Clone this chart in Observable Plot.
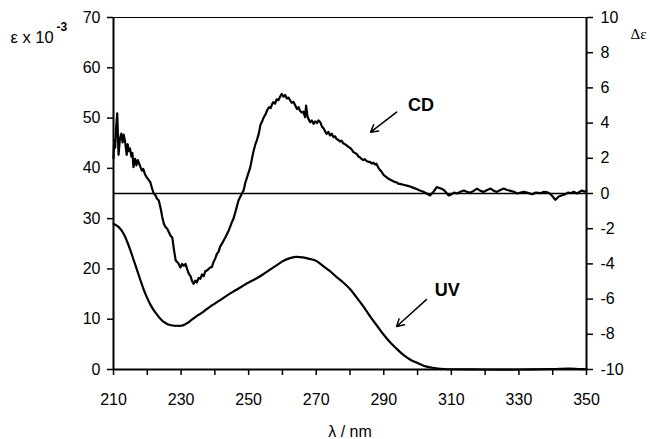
<!DOCTYPE html>
<html><head><meta charset="utf-8">
<script src="https://cdn.jsdelivr.net/npm/d3@7"></script>
<script src="https://cdn.jsdelivr.net/npm/@observablehq/plot@0.6"></script>
<style>body{margin:0;background:#fff}svg{display:block}</style>
</head><body><div id="chart"></div>
<script>
// UV spectrum: wavelength (nm) and ε × 10^-3 (left axis)
const uvNm  = [210,211,212,213,214,215,216,217,218,219,220,221,222,223,224,225,226,227,228,229,230,231,232,233,234,235,236,237,238,239,240,242,244,246,248,250,252,254,256,258,260,262,264,266,268,270,272,274,276,278,280,282,284,286,288,290,292,294,296,298,300,302,304,306,308,310,320,330,340,345,348,350];
const uvEps = [29.0,28.6,28.0,27.0,25.5,23.7,21.7,19.7,17.7,15.8,14.2,12.8,11.7,10.8,10.0,9.4,9.0,8.8,8.7,8.7,8.7,8.9,9.3,9.8,10.3,10.8,11.2,11.7,12.2,12.7,13.1,14.0,14.9,15.7,16.5,17.3,18.0,18.8,19.7,20.6,21.5,22.1,22.4,22.3,22.0,21.6,20.6,19.6,18.4,17.3,16.0,14.3,12.5,10.5,8.7,6.9,5.3,4.0,2.8,1.9,1.3,0.7,0.4,0.2,0.1,0.05,0.0,0.0,0.1,0.2,0.1,0.1];

// CD spectrum: wavelength (nm) and Δε (right axis)
const cdNm = [210.0,210.2,210.5,210.8,211.1,211.5,211.9,212.3,212.7,213.0,213.4,213.9,214.2,214.6,214.9,215.3,215.6,215.9,216.4,216.8,217.2,217.6,218.0,218.4,218.8,219.3,219.8,220.3,220.9,221.4,221.9,222.4,222.9,223.4,223.9,224.4,224.9,225.4,225.9,226.4,226.9,227.4,227.9,228.4,228.9,229.3,229.8,230.3,230.8,231.3,231.8,232.3,232.8,233.3,233.7,234.2,234.7,235.2,235.7,236.2,236.7,237.2,237.6,238.1,238.6,239.1,239.6,240.1,240.6,241.1,241.6,242.1,242.6,243.1,243.6,244.1,244.6,245.1,245.5,246.0,246.5,247.0,247.5,248.0,248.5,249.0,249.5,250.0,250.5,251.0,251.5,252.0,252.4,253.0,253.5,254.0,254.4,255.0,255.4,256.0,256.5,257.0,257.3,257.8,258.3,258.8,259.3,259.8,260.3,260.8,261.3,261.8,262.3,262.8,263.3,263.8,264.3,264.8,265.2,265.7,266.2,266.7,267.0,267.4,267.8,268.2,268.7,269.2,269.7,270.2,270.7,271.2,271.7,272.2,272.7,273.1,273.6,274.1,274.6,275.1,275.6,276.0,276.5,277.0,277.5,278.0,278.5,279.0,279.5,280.0,280.5,281.0,281.5,282.0,282.5,283.0,283.5,283.9,284.4,284.9,285.4,285.9,286.4,286.9,287.4,287.8,288.3,288.8,289.3,289.8,290.3,290.8,291.3,291.8,292.3,292.8,293.3,293.8,294.3,294.8,295.8,296.8,297.8,298.8,299.7,300.7,301.7,302.7,303.7,304.7,305.7,306.7,307.7,308.5,309.2,310.0,310.8,311.7,312.7,313.7,314.6,315.6,316.6,317.6,318.6,319.6,320.6,321.6,322.6,323.5,324.5,325.5,326.5,327.5,328.5,329.5,330.5,331.4,332.4,333.9,335.0,336.4,337.4,338.4,339.1,339.8,340.8,341.8,342.8,343.8,344.5,345.3,346.2,347.2,348.0,348.7,349.4,350.0];
const cdDelta = [2.0,3.0,2.6,3.8,4.55,2.2,3.1,3.4,2.9,3.35,3.0,2.2,2.8,2.4,2.55,2.1,2.3,1.5,1.97,1.6,1.9,1.7,1.5,1.3,1.4,1.1,0.93,0.8,0.64,0.3,0.0,-0.1,-0.3,-0.4,-0.8,-1.3,-1.72,-1.9,-2.0,-2.2,-2.4,-2.5,-3.2,-3.8,-3.9,-4.0,-4.2,-4.0,-4.1,-4.0,-4.3,-4.56,-4.7,-5.0,-5.13,-4.95,-5.05,-4.8,-4.85,-4.6,-4.7,-4.4,-4.38,-4.3,-4.2,-4.19,-3.9,-3.7,-3.43,-3.3,-3.0,-2.85,-2.67,-2.5,-2.3,-2.1,-1.85,-1.6,-1.44,-1.1,-0.75,-0.4,-0.2,0.0,0.17,0.6,0.9,1.2,1.5,2.0,2.44,2.8,3.0,3.4,3.9,4.1,4.3,4.5,4.7,4.9,4.85,5.1,5.19,5.1,5.35,5.3,5.5,5.66,5.5,5.6,5.4,5.45,5.28,5.15,5.2,5.0,4.8,4.9,4.7,4.6,4.65,4.33,5.0,4.4,4.2,4.05,4.15,3.96,4.1,4.0,4.15,4.05,3.8,3.7,3.5,3.39,3.5,3.3,3.4,3.2,3.25,3.1,3.05,2.95,3.0,2.85,2.8,2.73,2.65,2.6,2.5,2.35,2.3,2.25,2.1,2.05,1.95,1.9,1.95,1.85,1.8,1.8,1.7,1.75,1.65,1.69,1.5,1.35,1.25,1.1,1.0,0.93,0.85,0.8,0.75,0.7,0.65,0.64,0.55,0.55,0.5,0.45,0.4,0.32,0.25,0.17,0.1,0.0,-0.11,0.1,0.36,0.3,0.21,0.05,-0.11,-0.05,0.05,0.0,0.1,0.17,0.1,0.04,0.15,0.28,0.15,0.09,0.2,0.28,0.15,0.09,0.2,0.28,0.2,0.15,0.1,0.0,0.05,0.1,0.05,-0.04,0.05,0.02,0.1,0.07,0.0,-0.13,-0.36,-0.17,-0.1,-0.04,0.05,0.02,0.1,0.0,0.1,0.17,0.1,0.15];

// Axis ticks and labels
const xTicks = [210,220,230,240,250,260,270,280,290,300,310,320,330,340,350];
const xLabels = [210,230,250,270,290,310,330,350];
const leftTicks = [0,10,20,30,40,50,60,70];
const rightTicks = [-10,-8,-6,-4,-2,0,2,4,6,8,10];

// Δε (right axis, -10..10) shares the frame with ε (left axis, 0..70)
const toLeft = d => (d + 10) * 3.5;
const fromLeft = e => e / 3.5 - 10;

const uv = uvNm.map((x, i) => ({x, y: uvEps[i]}));
const cd = cdNm.map((x, i) => ({x, y: toLeft(cdDelta[i])}));

// annotations (data coordinates)
const cdLabel = {text: "CD", x: 301, y: 52.6};
const uvLabel = {text: "UV", x: 308.8, y: 15.8};
const arrows = [
  {x1: 293.8, y1: 51.2, x2: 286.1, y2: 47.2},
  {x1: 302.6, y1: 13.9, x2: 293.8, y2: 8.55}
];

const font = "'Liberation Sans', Arial, Helvetica, sans-serif";

const chart = Plot.plot({
  width: 650, height: 439,
  marginLeft: 113, marginRight: 64, marginTop: 17, marginBottom: 70,
  style: {fontFamily: font, fontSize: "16px", background: "#fff", color: "#000"},
  x: {domain: [210, 350], axis: null},
  y: {domain: [0, 70], axis: null},
  marks: [
    Plot.ruleY([toLeft(0)], {stroke: "#000", strokeWidth: 1.3}),
    Plot.line(uv, {x: "x", y: "y", stroke: "#000", strokeWidth: 2.2, curve: "catmull-rom"}),
    Plot.line(cd, {x: "x", y: "y", stroke: "#000", strokeWidth: 2.2, strokeLinejoin: "round"}),
    Plot.ruleX([210, 350], {stroke: "#000", strokeWidth: 2}),
    Plot.ruleY([0], {stroke: "#000", strokeWidth: 2}),
    Plot.ruleY([70], {stroke: "#000", strokeWidth: 1.2}),
    Plot.axisX(xTicks, {anchor: "bottom", tickSize: 6, tickPadding: 18, strokeWidth: 1.5, label: null,
      tickFormat: d => xLabels.includes(d) ? String(d) : "", fontSize: 16}),
    Plot.axisY(leftTicks, {anchor: "left", tickSize: 6, tickPadding: 7, strokeWidth: 1.5, label: null,
      tickFormat: d => String(d), fontSize: 16}),
    Plot.axisY(rightTicks.map(toLeft), {anchor: "right", tickSize: 6, tickPadding: 8, strokeWidth: 1.5, label: null,
      tickFormat: d => String(Math.round(fromLeft(d))), fontSize: 16}),
    Plot.text([cdLabel], {x: "x", y: "y", text: "text", fontWeight: "bold", fontSize: 18}),
    Plot.text([uvLabel], {x: "x", y: "y", text: "text", fontWeight: "bold", fontSize: 18}),
    Plot.arrow(arrows, {x1: "x1", y1: "y1", x2: "x2", y2: "y2", stroke: "#000", strokeWidth: 1.5, headLength: 8, bend: 0}),
    Plot.text(["ε x 10"], {frameAnchor: "top-left", textAnchor: "start", lineAnchor: "bottom", dx: -103, dy: 25, fontSize: 16.5}),
    Plot.text(["-3"], {frameAnchor: "top-left", textAnchor: "start", lineAnchor: "bottom", dx: -57, dy: 13, fontSize: 12, fontWeight: "bold"}),
    Plot.text(["Δε"], {frameAnchor: "top-right", textAnchor: "start", lineAnchor: "bottom", dx: 44, dy: 21, fontSize: 15, fontFamily: "'Liberation Serif', 'Times New Roman', serif"}),
    Plot.text(["λ / nm"], {frameAnchor: "bottom", textAnchor: "middle", lineAnchor: "bottom", dy: 67, fontSize: 16})
  ]
});
document.getElementById("chart").append(chart);
</script>
</body></html>
